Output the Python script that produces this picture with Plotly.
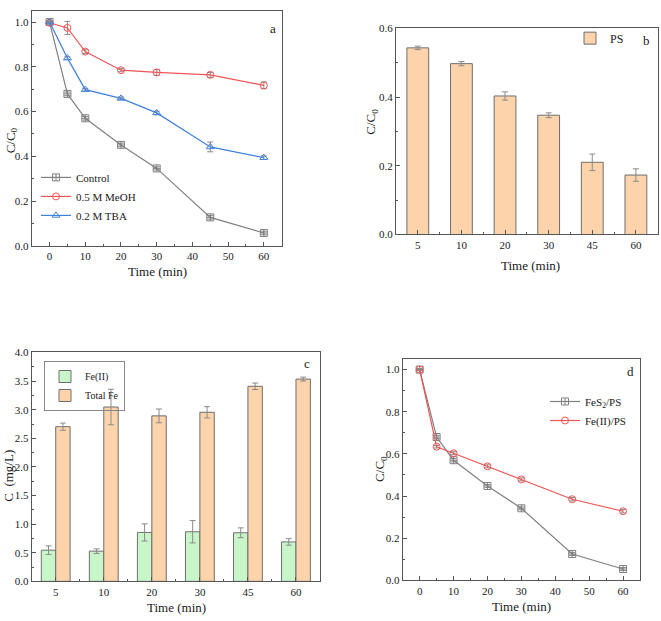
import plotly.graph_objects as go

W, H = 661, 621
FONT = '"Liberation Serif", "Times New Roman", "DejaVu Serif", serif'
TXT = "#1a1a1a"
AX = "#555555"

# ---------- data ----------
time_line = [0, 5, 10, 20, 30, 45, 60]
control = [1.0, 0.679, 0.570, 0.451, 0.346, 0.127, 0.057]
control_err = [0.004, 0.008, 0.008, 0.008, 0.007, 0.008, 0.008]
meoh = [0.997, 0.974, 0.868, 0.785, 0.775, 0.764, 0.717]
meoh_err = [0.006, 0.029, 0.008, 0.007, 0.013, 0.011, 0.015]
tba = [1.0, 0.839, 0.698, 0.659, 0.594, 0.442, 0.394]
tba_err = [0.004, 0.006, 0.006, 0.006, 0.008, 0.022, 0.008]

time_cat = ["5", "10", "20", "30", "45", "60"]
ps = [0.543, 0.497, 0.403, 0.347, 0.210, 0.173]
ps_err = [0.005, 0.006, 0.012, 0.007, 0.024, 0.018]

fe2 = [0.545, 0.528, 0.855, 0.867, 0.849, 0.689]
fe2_err = [0.075, 0.040, 0.150, 0.195, 0.086, 0.057]
total_fe = [2.703, 3.047, 2.892, 2.955, 3.409, 3.535]
total_fe_err = [0.063, 0.310, 0.120, 0.098, 0.057, 0.034]

fes2_ps = [1.0, 0.680, 0.570, 0.448, 0.342, 0.125, 0.054]
fes2_ps_err = [0.004, 0.008, 0.008, 0.007, 0.007, 0.007, 0.007]
fe2_ps = [1.0, 0.634, 0.603, 0.541, 0.479, 0.385, 0.328]
fe2_ps_err = [0.005, 0.006, 0.007, 0.007, 0.007, 0.008, 0.008]

GRAY = "#808080"
RED = "#F25555"
BLUE = "#3F82DC"
PEACH = "#FCD3AB"
GREEN = "#C9F6C9"
ERR = "#8a8a8a"

def px(x):
    return x / W

def py(y):
    return 1 - y / H

fig = go.Figure()

def line_trace(x, y, err, name, color, symbol, xa, ya, legend):
    return go.Scatter(
        x=x, y=y, name=name, mode="lines+markers",
        line=dict(color=color, width=1.2),
        marker=dict(symbol=symbol, size=7, color=color, line=dict(color=color, width=1)),
        error_y=dict(type="data", array=err, visible=True, color=ERR, thickness=1, width=3),
        xaxis=xa, yaxis=ya, legend=legend,
    )

# Panel a
fig.add_trace(line_trace(time_line, control, control_err, "Control", GRAY, "square-cross-open", "x", "y", "legend"))
fig.add_trace(line_trace(time_line, meoh, meoh_err, "0.5 M MeOH", RED, "circle-open", "x", "y", "legend"))
fig.add_trace(line_trace(time_line, tba, tba_err, "0.2 M TBA", BLUE, "triangle-up-open", "x", "y", "legend"))

# Panel b
idx = list(range(len(time_cat)))
fig.add_trace(go.Bar(
    x=idx, y=ps, name="PS", width=0.5,
    marker=dict(color=PEACH, line=dict(color="#6e6e6e", width=1)),
    error_y=dict(type="data", array=ps_err, visible=True, color=ERR, thickness=1, width=3),
    xaxis="x2", yaxis="y2", legend="legend2",
))

# Panel c
fig.add_trace(go.Bar(
    x=idx, y=fe2, name="Fe(II)", width=0.3, offset=-0.3,
    marker=dict(color=GREEN, line=dict(color="#6e6e6e", width=1)),
    error_y=dict(type="data", array=fe2_err, visible=True, color=ERR, thickness=1, width=3),
    xaxis="x3", yaxis="y3", legend="legend3",
))
fig.add_trace(go.Bar(
    x=idx, y=total_fe, name="Total Fe", width=0.3, offset=0.0,
    marker=dict(color=PEACH, line=dict(color="#6e6e6e", width=1)),
    error_y=dict(type="data", array=total_fe_err, visible=True, color=ERR, thickness=1, width=3),
    xaxis="x3", yaxis="y3", legend="legend3",
))

# Panel d
fig.add_trace(line_trace(time_line, fes2_ps, fes2_ps_err, "FeS<sub>2</sub>/PS", GRAY, "square-cross-open", "x4", "y4", "legend4"))
fig.add_trace(line_trace(time_line, fe2_ps, fe2_ps_err, "Fe(II)/PS", RED, "circle-open", "x4", "y4", "legend4"))

tickfont = dict(family=FONT, size=11, color=TXT)

def xax(domain, anchor, **kw):
    d = dict(domain=domain, anchor=anchor, showline=True, mirror=True, linecolor=AX, linewidth=1.2,
             ticks="inside", ticklen=4, tickcolor=AX, showgrid=False, zeroline=False,
             tickfont=tickfont, fixedrange=True)
    d.update(kw)
    return d

layout = dict(
    width=W, height=H, margin=dict(l=0, r=0, t=0, b=0),
    paper_bgcolor="white", plot_bgcolor="white",
    font=dict(family=FONT, color=TXT),
    barmode="overlay", showlegend=True,
    xaxis=xax([px(31.7), px(281.7)], "y", range=[-5, 65], tickvals=[0, 10, 20, 30, 40, 50, 60],
              minor=dict(ticks="inside", ticklen=2, tickcolor=AX, dtick=5, tick0=0)),
    yaxis=xax([py(244.5), py(5)], "x", range=[0, 1.05], tickvals=[0, 0.2, 0.4, 0.6, 0.8, 1.0],
              tickformat=".1f", minor=dict(ticks="inside", ticklen=2, tickcolor=AX, dtick=0.1, tick0=0)),
    xaxis2=xax([px(396), px(657.7)], "y2", range=[-0.5, 5.5], tickvals=idx, ticktext=time_cat,
               minor=dict(ticks="inside", ticklen=2, tickcolor=AX, dtick=0.5, tick0=0.5)),
    yaxis2=xax([py(233), py(22.7)], "x2", range=[0, 0.6], tickvals=[0, 0.2, 0.4, 0.6],
               tickformat=".1f", minor=dict(ticks="inside", ticklen=2, tickcolor=AX, dtick=0.1, tick0=0)),
    xaxis3=xax([px(31.7), px(320)], "y3", range=[-0.5, 5.5], tickvals=idx, ticktext=time_cat,
               minor=dict(ticks="inside", ticklen=2, tickcolor=AX, dtick=0.5, tick0=0.5)),
    yaxis3=xax([py(586.7), py(353.3)], "x3", range=[0, 4.0], dtick=0.5, tick0=0,
               tickformat=".1f", minor=dict(ticks="inside", ticklen=2, tickcolor=AX, dtick=0.25, tick0=0)),
    xaxis4=xax([px(402.7), px(640)], "y4", range=[-5, 65], tickvals=[0, 10, 20, 30, 40, 50, 60],
               minor=dict(ticks="inside", ticklen=2, tickcolor=AX, dtick=5, tick0=0)),
    yaxis4=xax([py(585.7), py(360)], "x4", range=[0, 1.05], tickvals=[0, 0.2, 0.4, 0.6, 0.8, 1.0],
               tickformat=".1f", minor=dict(ticks="inside", ticklen=2, tickcolor=AX, dtick=0.1, tick0=0)),
    legend=dict(x=px(36), y=py(160), xanchor="left", yanchor="top", bgcolor="rgba(0,0,0,0)",
                font=dict(family=FONT, size=11, color=TXT), itemwidth=30, tracegroupgap=0),
    legend2=dict(x=px(570), y=py(18), xanchor="left", yanchor="top", bgcolor="rgba(0,0,0,0)",
                 font=dict(family=FONT, size=12, color=TXT)),
    legend3=dict(x=px(44), y=py(362), xanchor="left", yanchor="top", bgcolor="rgba(0,0,0,0)",
                 bordercolor="#888888", borderwidth=1, font=dict(family=FONT, size=10, color=TXT)),
    legend4=dict(x=px(545), y=py(388.5), xanchor="left", yanchor="top", bgcolor="rgba(0,0,0,0)",
                 font=dict(family=FONT, size=11, color=TXT)),
)

ann = []
def text(x, y, s, size=13, angle=0):
    ann.append(dict(x=px(x), y=py(y), xref="paper", yref="paper", text=s, showarrow=False,
                    font=dict(family=FONT, size=size, color=TXT), textangle=angle,
                    xanchor="center", yanchor="middle"))

text(11, 137, "C/C<sub>0</sub>", 13, -90)
text(157.5, 271, "Time (min)", 13)
text(372, 118, "C/C<sub>0</sub>", 13, -90)
text(530, 265, "Time (min)", 13)
text(9, 479, "C  (mg/L)", 13, -90)
text(176, 613, "Time (min)", 13)
text(381, 472, "C/C<sub>0</sub>", 13, -90)
text(521.7, 612.5, "Time (min)", 13)
text(272.7, 23, "a", 13)
text(646.7, 35, "b", 13)
text(307.3, 365, "c", 13)
text(630, 372.7, "d", 13)
layout["annotations"] = ann

fig.update_layout(**layout)
fig.write_html("out.html", config={"displayModeBar": False},
               post_script="document.body.style.margin='0';document.body.style.overflow='hidden';")
